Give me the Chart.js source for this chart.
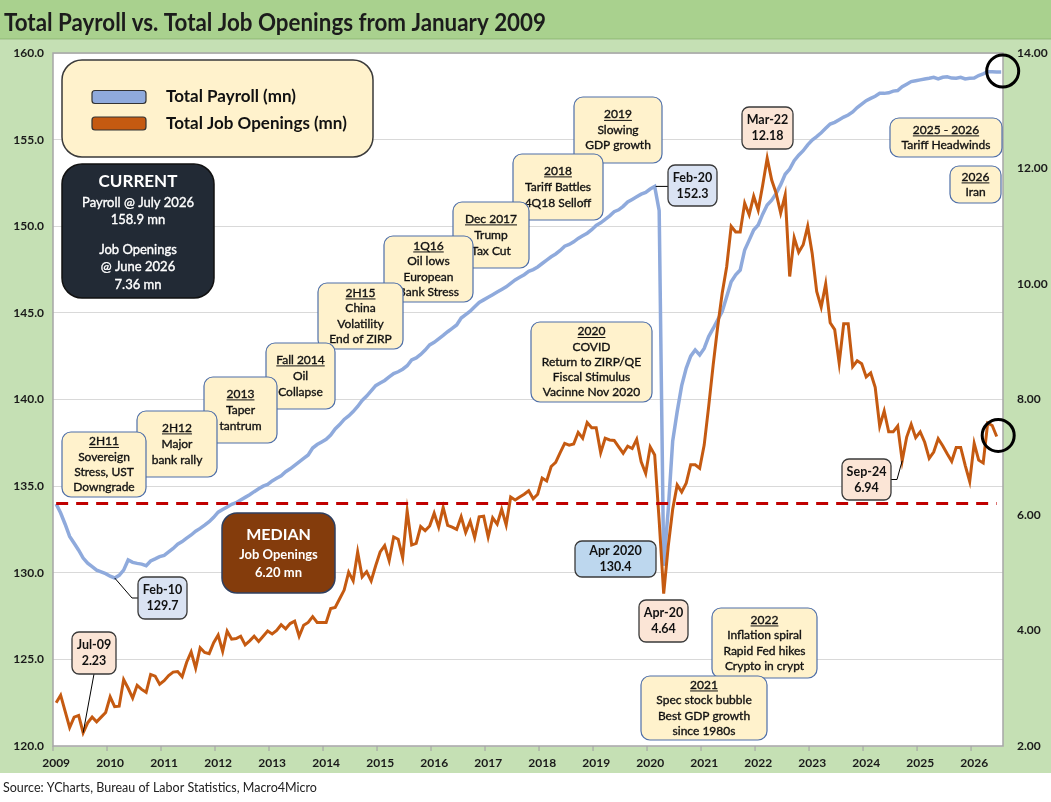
<!DOCTYPE html>
<html><head><meta charset="utf-8">
<script src="https://cdn.jsdelivr.net/npm/chart.js@4.4.0/dist/chart.umd.min.js"></script>
<style>
html,body{margin:0;padding:0;background:#fff;width:1051px;height:802px;overflow:hidden;}
#wrap{position:relative;width:1051px;height:802px;}
canvas{position:absolute;left:0;top:0;}
</style></head>
<body><div id="wrap"><canvas id="c" width="1051" height="802"></canvas></div>
<script>
// ---------------- DATA ----------------
const titleText = "Total Payroll vs. Total Job Openings from January 2009";
const sourceText = "Source: YCharts, Bureau of Labor Statistics, Macro4Micro";
const firstYear = 2009;
const yearLabels = ["2009","2010","2011","2012","2013","2014","2015","2016","2017","2018","2019","2020","2021","2022","2023","2024","2025","2026"];
const monthShort = ["Jan","Feb","Mar","Apr","May","Jun","Jul","Aug","Sep","Oct","Nov","Dec"];
const monthLong = ["January","February","March","April","May","June","July","August","September","October","November","December"];
const payrollLabel = "Total Payroll (mn)";
const openingsLabel = "Total Job Openings (mn)";
const payrollTicks = [120,125,130,135,140,145,150,155,160];
const openingsTicks = [2,4,6,8,10,12,14];

// Total nonfarm payroll, millions, monthly from Jan 2009
const payroll = [
 133.97,133.45,132.8,132.1,131.7,131.3,130.85,130.55,130.35,130.15,130.05,129.95,
 129.8,129.7,129.85,130.15,130.74,130.6,130.54,130.5,130.41,130.68,130.8,130.93,
 131.0,131.2,131.4,131.65,131.8,132.0,132.18,132.4,132.56,132.75,132.95,133.2,
 133.5,133.65,133.8,133.95,134.04,134.2,134.35,134.5,134.68,134.85,135.0,135.1,
 135.3,135.45,135.6,135.83,136.0,136.2,136.4,136.6,136.8,137.2,137.4,137.55,
 137.7,137.95,138.3,138.55,138.85,139.05,139.3,139.6,139.95,140.2,140.5,140.8,
 140.95,141.1,141.3,141.5,141.6,141.75,141.95,142.28,142.4,142.6,142.85,143.15,
 143.3,143.5,143.7,143.91,144.1,144.3,144.7,144.9,145.1,145.35,145.6,145.75,
 145.9,146.05,146.2,146.35,146.5,146.7,146.9,147.05,147.2,147.4,147.5,147.65,
 147.85,148.05,148.24,148.4,148.6,148.85,148.95,149.1,149.3,149.45,149.6,149.8,
 150.05,150.2,150.4,150.6,150.84,150.95,151.15,151.4,151.55,151.7,151.85,151.95,
 152.15,152.3,150.9,130.4,133.6,137.6,139.3,140.8,141.8,142.5,142.86,142.57,
 142.95,143.63,144.1,144.6,145.07,145.93,146.8,147.2,147.47,148.63,149.2,149.78,
 150.07,150.7,151.23,151.5,151.9,152.4,153.0,153.3,153.78,154.1,154.36,154.7,
 154.98,155.17,155.4,155.65,155.9,156.0,156.15,156.3,156.42,156.6,156.85,157.05,
 157.25,157.38,157.5,157.67,157.67,157.7,157.8,157.83,158.05,158.2,158.35,158.4,
 158.45,158.5,158.54,158.6,158.5,158.6,158.63,158.55,158.54,158.6,158.5,158.54,
 158.55,158.7,158.8,158.92,158.92,158.9,158.9
];
// JOLTS job openings, millions, monthly from Jan 2009
const openings = [
 2.75,2.88,2.6,2.32,2.5,2.53,2.23,2.4,2.5,2.42,2.5,2.58,
 2.85,2.68,2.69,3.15,3.0,2.83,3.05,2.98,2.93,3.24,3.21,3.07,
 3.13,3.22,3.28,3.29,3.2,3.45,3.63,3.35,3.7,3.62,3.6,3.79,
 3.92,3.64,3.99,3.85,3.86,3.9,3.75,3.82,3.9,3.81,3.9,3.99,
 3.94,4.0,4.1,4.03,4.12,4.16,3.9,4.09,4.14,4.24,4.14,4.14,
 4.14,4.38,4.4,4.55,4.7,5.01,4.86,5.36,4.93,5.02,4.86,5.12,
 5.36,5.47,5.21,5.62,5.58,5.26,6.07,5.48,5.51,5.8,5.73,5.81,
 6.03,5.79,6.13,5.82,5.79,5.75,5.97,5.7,5.89,5.61,5.97,5.98,
 5.62,5.95,5.84,6.1,5.83,6.31,6.26,6.31,6.36,6.42,6.28,6.36,
 6.64,6.59,6.84,6.91,7.08,7.24,7.21,7.23,7.43,7.33,7.6,7.51,
 7.51,7.08,7.33,7.3,7.29,7.18,7.07,7.19,7.15,7.31,6.92,6.72,
 7.18,7.04,5.9,4.64,5.45,6.1,6.52,6.4,6.55,6.87,6.87,6.81,
 7.21,7.88,8.6,9.26,9.84,10.3,11.0,10.9,10.9,11.4,11.2,11.52,
 11.28,11.71,12.18,11.8,11.57,11.23,11.54,10.13,10.8,10.55,10.68,11.0,
 10.53,9.87,9.6,10.0,9.33,9.21,8.63,9.31,9.31,8.57,8.67,8.62,
 8.39,8.46,8.21,7.54,7.8,7.44,7.44,7.54,6.94,7.35,7.57,7.34,
 7.44,7.26,6.98,7.09,7.32,7.2,7.06,6.93,7.17,7.17,6.86,6.58,
 7.24,6.95,6.9,7.59,7.55,7.36
];
const medianOpenings = 6.20;
// month indices (from Jan 2009) of the called-out points
const payrollTroughMonth = 13;   // Feb-10
const payrollPeakMonth = 133;    // Feb-20
const payrollCovidMonth = 135;   // Apr 2020
const openingsTroughMonth = 6;   // Jul-09
const openingsCovidMonth = 135;  // Apr-20
const openingsPeakMonth = 158;   // Mar-22
const openingsSep24Month = 188;  // Sep-24

// ---------------- HELPERS ----------------
const FONT = 'Lato';
const C_BLUE = '#8faadc', C_ORANGE = '#c55a11', C_RED = '#c00000';
const monTag = i => monthShort[i % 12] + '-' + String((firstYear + Math.floor(i / 12)) % 100).padStart(2, '0');
const monYear = i => monthShort[i % 12] + ' ' + (firstYear + Math.floor(i / 12));
const monLongYear = i => monthLong[i % 12] + ' ' + (firstYear + Math.floor(i / 12));

function rr(ctx, x, y, w, h, r) {
  ctx.beginPath();
  ctx.moveTo(x + r, y);
  ctx.arcTo(x + w, y, x + w, y + h, r);
  ctx.arcTo(x + w, y + h, x, y + h, r);
  ctx.arcTo(x, y + h, x, y, r);
  ctx.arcTo(x, y, x + w, y, r);
  ctx.closePath();
}
function txt(ctx, s, x, y, o) {
  o = o || {};
  const size = o.size || 12;
  ctx.font = (o.bold ? 'bold ' : '') + size + 'px ' + FONT;
  ctx.fillStyle = o.color || '#111';
  ctx.textAlign = o.align || 'center';
  ctx.textBaseline = 'middle';
  let w = ctx.measureText(s).width;
  const mw = (o.maxW && w > o.maxW) ? o.maxW : undefined;
  if (mw) { ctx.fillText(s, x, y, mw); w = mw; } else ctx.fillText(s, x, y);
  if (o.medium) {
    ctx.strokeStyle = o.color || '#111'; ctx.lineWidth = o.medium;
    if (mw) ctx.strokeText(s, x, y, mw); else ctx.strokeText(s, x, y);
  }
  if (o.underline) {
    const x0 = (o.align === 'left') ? x : x - w / 2;
    ctx.fillRect(x0, y + size * 0.45, w, 1);
  }
}
function drawBox(ctx, b) {
  rr(ctx, b.x, b.y, b.w, b.h, b.r || 9);
  ctx.fillStyle = b.fill || '#fff2cc';
  ctx.fill();
  ctx.lineWidth = b.lw || 1.2;
  ctx.strokeStyle = b.stroke || '#4f6fa8';
  ctx.stroke();
  const lh = b.lh || 15.3;
  const cy = b.y + b.h / 2;
  const n = b.lines.length;
  b.lines.forEach((ln, i) => {
    const L = typeof ln === 'string' ? { t: ln } : ln;
    const bold = L.bold !== undefined ? L.bold : b.bold;
    txt(ctx, L.t, b.x + b.w / 2, cy + (i - (n - 1) / 2) * lh, {
      size: L.size || b.size || 12, bold: bold, medium: bold ? 0 : 0.35,
      color: b.color || '#111', underline: L.u });
  });
}

// ---------------- PLUGINS ----------------
const framePlugin = {
  id: 'frame',
  beforeDraw(chart) {
    const ctx = chart.ctx, a = chart.chartArea;
    ctx.save();
    ctx.fillStyle = '#ffffff'; ctx.fillRect(0, 0, chart.width, chart.height);
    ctx.fillStyle = '#a9d18e'; ctx.fillRect(0, 0, chart.width, 39);
    ctx.fillStyle = '#8db872'; ctx.fillRect(0, 38.5, chart.width, 1.2);
    ctx.fillStyle = '#c5e0b4'; ctx.fillRect(0, 40, chart.width, 733);
    ctx.fillStyle = '#ffffff'; ctx.fillRect(a.left, a.top, a.right - a.left, a.bottom - a.top);
    txt(ctx, titleText, 4, 23, { size: 24, bold: true, color: '#1c1c1c', align: 'left', maxW: 542 });
    txt(ctx, sourceText, 3, 788, { size: 12.5, color: '#222', align: 'left', maxW: 314 });
    ctx.restore();
  },
  beforeDatasetsDraw(chart) {
    const ctx = chart.ctx, a = chart.chartArea, xs = chart.scales.x;
    ctx.save();
    ctx.strokeStyle = '#a6a6a6'; ctx.lineWidth = 1.5;
    ctx.strokeRect(a.left, a.top, a.right - a.left, a.bottom - a.top);
    // year boundary tick marks (data points are dated late in each month)
    ctx.lineWidth = 1.2;
    yearLabels.forEach((l, k) => {
      const px = xs.getPixelForValue(k * 12 - 0.7);
      ctx.beginPath(); ctx.moveTo(px, a.bottom); ctx.lineTo(px, a.bottom + 5); ctx.stroke();
    });
    ctx.restore();
  },
  afterDatasetsDraw(chart) {
    const ctx = chart.ctx, xs = chart.scales.x, yl = chart.scales.y, yr = chart.scales.y1;
    const P = i => ({ x: xs.getPixelForValue(i), y: yl.getPixelForValue(payroll[i]) });
    const O = i => ({ x: xs.getPixelForValue(i), y: yr.getPixelForValue(openings[i]) });
    ctx.save();

    // circles on latest points
    const lp = P(payroll.length - 1), lo = O(openings.length - 1);
    ctx.strokeStyle = '#000'; ctx.lineWidth = 3;
    [lp, lo].forEach(p => { ctx.beginPath(); ctx.arc(p.x + 1.5, p.y - 1, 16, 0, Math.PI * 2); ctx.stroke(); });

    // event boxes (later ones underneath)
    const events = [
      { x: 62, y: 432, w: 84, h: 65, lines: [{ t: '2H11', u: 1 }, 'Sovereign', 'Stress, UST', 'Downgrade'] },
      { x: 137, y: 411, w: 80, h: 66, lh: 16, lines: [{ t: '2H12', u: 1 }, 'Major', 'bank rally'] },
      { x: 204, y: 377, w: 73, h: 66, lh: 16, lines: [{ t: '2013', u: 1 }, 'Taper', 'tantrum'] },
      { x: 266, y: 343, w: 69, h: 66, lh: 16, lines: [{ t: 'Fall 2014', u: 1 }, 'Oil', 'Collapse'] },
      { x: 318, y: 283, w: 85, h: 66, lines: [{ t: '2H15', u: 1 }, 'China', 'Volatility', 'End of ZIRP'] },
      { x: 384, y: 236, w: 89, h: 66, lines: [{ t: '1Q16', u: 1 }, 'Oil lows', 'European', 'Bank Stress'] },
      { x: 453, y: 202, w: 76, h: 66, lh: 16, lines: [{ t: 'Dec 2017', u: 1 }, 'Trump', 'Tax Cut'] },
      { x: 513, y: 154, w: 90, h: 66, lh: 16, lines: [{ t: '2018', u: 1 }, 'Tariff Battles', '4Q18 Selloff'] },
      { x: 574, y: 97, w: 88, h: 66, lh: 15.5, lines: [{ t: '2019', u: 1 }, 'Slowing', 'GDP growth'] }
    ];
    for (let i = events.length - 1; i >= 0; i--) drawBox(ctx, events[i]);
    drawBox(ctx, { x: 531, y: 322, w: 121, h: 80, lh: 15.2, lines: [{ t: '2020', u: 1 }, 'COVID', 'Return to ZIRP/QE', 'Fiscal Stimulus', 'Vacinne Nov 2020'] });
    drawBox(ctx, { x: 712, y: 608, w: 105, h: 70, lines: [{ t: '2022', u: 1 }, 'Inflation spiral', 'Rapid Fed hikes', 'Crypto in crypt'] });
    drawBox(ctx, { x: 641, y: 676, w: 126, h: 64, lines: [{ t: '2021', u: 1 }, 'Spec stock bubble', 'Best GDP growth', 'since 1980s'] });
    drawBox(ctx, { x: 890, y: 118, w: 112, h: 39, lh: 15, lines: [{ t: '2025 - 2026', u: 1 }, 'Tariff Headwinds'] });
    drawBox(ctx, { x: 950, y: 166, w: 51, h: 37, lh: 15, lines: [{ t: '2026', u: 1 }, 'Iran'] });

    // leader lines
    ctx.strokeStyle = '#000'; ctx.lineWidth = 1;
    const fb10 = { x: 138, y: 577, w: 49, h: 42 };
    const jl09 = { x: 72, y: 632, w: 44, h: 42 };
    const fb20 = { x: 668, y: 165, w: 49, h: 41 };
    const sp24 = { x: 842, y: 459, w: 49, h: 41 };
    let p = P(payrollTroughMonth);
    ctx.beginPath(); ctx.moveTo(p.x, p.y); ctx.lineTo(fb10.x - 6, fb10.y + fb10.h / 2); ctx.lineTo(fb10.x, fb10.y + fb10.h / 2); ctx.stroke();
    p = O(openingsTroughMonth);
    ctx.beginPath(); ctx.moveTo(jl09.x + jl09.w / 2, jl09.y + jl09.h); ctx.lineTo(p.x, p.y); ctx.stroke();
    p = P(payrollPeakMonth);
    ctx.beginPath(); ctx.moveTo(p.x + 1, p.y); ctx.lineTo(fb20.x, p.y); ctx.stroke();
    p = O(openingsSep24Month);
    ctx.beginPath(); ctx.moveTo(p.x, p.y); ctx.lineTo(sp24.x + sp24.w + 6, sp24.y + sp24.h / 2); ctx.lineTo(sp24.x + sp24.w, sp24.y + sp24.h / 2); ctx.stroke();

    // value callouts
    const blueFill = '#dae3f3', peach = '#fbe5d6', dk = '#3a3a3a';
    const co = (b, t1, t2, fill) => drawBox(ctx, Object.assign({}, b, { r: 7, fill: fill, stroke: dk, lw: 1.3, bold: true, size: 12.5, lh: 16, lines: [t1, t2] }));
    co(fb10, monTag(payrollTroughMonth), payroll[payrollTroughMonth].toFixed(1), blueFill);
    co(jl09, monTag(openingsTroughMonth), openings[openingsTroughMonth].toFixed(2), peach);
    co(fb20, monTag(payrollPeakMonth), payroll[payrollPeakMonth].toFixed(1), blueFill);
    co(sp24, monTag(openingsSep24Month), openings[openingsSep24Month].toFixed(2), peach);
    co({ x: 742, y: 107, w: 51, h: 42 }, monTag(openingsPeakMonth), openings[openingsPeakMonth].toFixed(2), peach);
    co({ x: 639, y: 600, w: 49, h: 42 }, monTag(openingsCovidMonth), openings[openingsCovidMonth].toFixed(2), peach);
    co({ x: 575, y: 541, w: 81, h: 36 }, monYear(payrollCovidMonth), payroll[payrollCovidMonth].toFixed(1), '#bdd7ee');

    // legend box
    rr(ctx, 62, 60, 311, 97, 20);
    ctx.fillStyle = '#fff2cc'; ctx.fill(); ctx.lineWidth = 1.5; ctx.strokeStyle = '#3a3a3a'; ctx.stroke();
    chart.data.datasets.slice(0, 2).forEach((ds, i) => {
      const yy = 97 + i * 26.5;
      rr(ctx, 92, yy - 6.5, 54, 13, 3);
      ctx.fillStyle = ds.borderColor; ctx.fill(); ctx.lineWidth = 1.2; ctx.strokeStyle = '#333'; ctx.stroke();
      txt(ctx, ds.label, 166, yy, { size: 17, bold: true, color: '#111', align: 'left' });
    });

    // CURRENT box
    rr(ctx, 62, 164, 152, 134, 20);
    ctx.fillStyle = '#222a35'; ctx.fill(); ctx.lineWidth = 1.5; ctx.strokeStyle = '#111'; ctx.stroke();
    const cx = 138;
    txt(ctx, 'CURRENT', cx, 182, { size: 17, bold: true, color: '#fff' });
    txt(ctx, 'Payroll @ ' + monLongYear(payroll.length - 1), cx, 202.5, { size: 13, color: '#fff', medium: 0.35 });
    txt(ctx, payroll[payroll.length - 1].toFixed(1) + ' mn', cx, 219.5, { size: 13, color: '#fff', medium: 0.35 });
    txt(ctx, 'Job Openings', cx, 250, { size: 13, color: '#fff', medium: 0.35 });
    txt(ctx, '@ ' + monLongYear(openings.length - 1), cx, 267, { size: 13, color: '#fff', medium: 0.35 });
    txt(ctx, openings[openings.length - 1].toFixed(2) + ' mn', cx, 285, { size: 13, color: '#fff', medium: 0.35 });

    // MEDIAN box
    rr(ctx, 222, 513, 113, 80, 15);
    ctx.fillStyle = '#843c0c'; ctx.fill(); ctx.lineWidth = 1.5; ctx.strokeStyle = '#2f3f5f'; ctx.stroke();
    txt(ctx, 'MEDIAN', 278.5, 535, { size: 16, bold: true, color: '#fff' });
    txt(ctx, 'Job Openings', 278.5, 554.5, { size: 13, bold: true, color: '#fff' });
    txt(ctx, medianOpenings.toFixed(2) + ' mn', 278.5, 572.5, { size: 13, bold: true, color: '#fff' });
    ctx.restore();
  }
};

// ---------------- CHART ----------------
Chart.defaults.font.family = FONT;
const tickFont = { family: FONT, size: 12, weight: 'bold' };
new Chart(document.getElementById('c'), {
  type: 'line',
  data: {
    datasets: [
      { label: payrollLabel, data: payroll.map((v, i) => ({ x: i, y: v })), yAxisID: 'y',
        borderColor: C_BLUE, backgroundColor: C_BLUE, borderWidth: 3.5, pointRadius: 0, tension: 0, order: 3 },
      { label: openingsLabel, data: openings.map((v, i) => ({ x: i, y: v })), yAxisID: 'y1',
        borderColor: C_ORANGE, backgroundColor: C_ORANGE, borderWidth: 3, pointRadius: 0, tension: 0, order: 2 },
      { label: 'Median', data: [{ x: 0, y: medianOpenings }, { x: openings.length - 1, y: medianOpenings }], yAxisID: 'y1',
        borderColor: C_RED, borderWidth: 3, borderDash: [12, 8], pointRadius: 0, order: 1 }
    ]
  },
  options: {
    responsive: false, animation: false, devicePixelRatio: 1,
    layout: { padding: { top: 53, left: 0, right: 0, bottom: 0 } },
    plugins: { legend: { display: false }, tooltip: { enabled: false } },
    scales: {
      x: {
        type: 'linear', min: -0.7, max: 210.4,
        afterBuildTicks: s => { s.ticks = yearLabels.map((l, k) => ({ value: k * 12 })); },
        ticks: { autoSkip: false, maxRotation: 0, font: tickFont, color: '#1a1a1a', padding: 10,
          callback: (v, i) => yearLabels[i] },
        grid: { display: false, drawTicks: false }, border: { display: false },
        afterFit: s => { s.height = 56; }
      },
      y: {
        position: 'left', min: payrollTicks[0], max: payrollTicks[payrollTicks.length - 1],
        afterBuildTicks: s => { s.ticks = payrollTicks.map(v => ({ value: v })); },
        ticks: { font: tickFont, color: '#1a1a1a', padding: 9, callback: v => Number(v).toFixed(1) },
        grid: { color: '#d9d9d9', lineWidth: 1, drawTicks: false }, border: { display: false },
        afterFit: s => { s.width = 53; }
      },
      y1: {
        position: 'right', min: openingsTicks[0], max: openingsTicks[openingsTicks.length - 1],
        afterBuildTicks: s => { s.ticks = openingsTicks.map(v => ({ value: v })); },
        ticks: { font: tickFont, color: '#1a1a1a', padding: 14, callback: v => Number(v).toFixed(2) },
        grid: { display: false, drawTicks: false }, border: { display: false },
        afterFit: s => { s.width = 48; }
      }
    }
  },
  plugins: [framePlugin]
});
</script>
</body></html>
